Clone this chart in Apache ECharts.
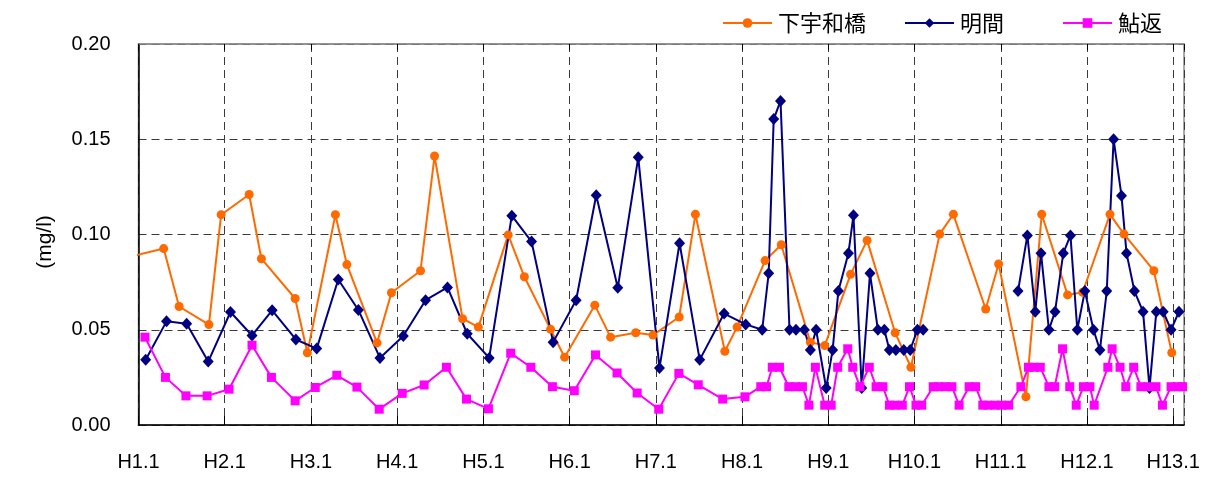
<!DOCTYPE html>
<html>
<head>
<meta charset="utf-8">
<script src="https://cdn.jsdelivr.net/npm/echarts@6/dist/echarts.min.js"></script>
<style>
html,body{margin:0;padding:0;background:#fff;}
#c{width:1216px;height:480px;}
</style>
</head>
<body>
<div id="c"></div>
<script>
// x values are months counted from H1.1 (H1.1 = 0, H2.1 = 12, ...)
const seriesNames = ['下宇和橋', '明間', '鮎返'];
const yTicks = [0, 0.05, 0.10, 0.15, 0.20];
const yAxisTitle = '(mg/l)';

const shimoUwaX = [-1, 3.5, 5.65, 9.8, 11.5, 15.4, 17.1, 21.8, 23.5, 27.4, 29.0, 33.2, 35.2, 39.25, 41.2, 45.1, 47.3, 51.45, 53.7, 57.35, 59.3, 63.5, 65.7, 69.2, 71.6, 75.25, 77.5, 81.6, 83.3, 87.2, 89.45, 93.5, 95.5, 99.1, 101.4, 105.3, 107.5, 111.5, 113.4, 117.9, 119.7, 123.5, 125.7, 129.3, 131.4, 135.2, 137.15, 141.3, 143.8];
const shimoUwaY = [0.0885, 0.0926, 0.0622, 0.0527, 0.1104, 0.1210, 0.0873, 0.0664, 0.0379, 0.1104, 0.0842, 0.0431, 0.0694, 0.0810, 0.1412, 0.0558, 0.0514, 0.0998, 0.0778, 0.0502, 0.0356, 0.0629, 0.0461, 0.0484, 0.0472, 0.0567, 0.1106, 0.0387, 0.0514, 0.0863, 0.0946, 0.0435, 0.0417, 0.0791, 0.0969, 0.0484, 0.0303, 0.1002, 0.1106, 0.0609, 0.0845, 0.0148, 0.1106, 0.0683, 0.0697, 0.1106, 0.1002, 0.0810, 0.0379];

const akemaX = [1.0, 3.9, 6.7, 9.7, 12.8, 15.8, 18.6, 21.9, 24.8, 27.8, 30.6, 33.6, 36.85, 39.95, 43.0, 45.75, 48.8, 51.95, 54.7, 57.7, 60.9, 63.7, 66.7, 69.55, 72.5, 75.3, 78.1, 81.5, 84.5, 86.8, 87.7, 88.4, 89.35, 90.6, 91.5, 92.65, 93.5, 94.3, 95.7, 96.6, 97.4, 98.8, 99.5, 100.65, 101.8, 102.9, 103.8, 104.5, 105.4, 106.5, 107.4, 108.4, 109.2, 115, 122.4, 123.7, 124.8, 125.6, 126.7, 127.55, 128.7, 129.7, 130.65, 131.7, 132.9, 133.8, 134.75, 135.7, 136.8, 137.5, 138.6, 139.8, 140.7, 141.65, 142.6, 143.7, 144.8];
const akemaY = [0.0342, 0.0544, 0.0532, 0.0333, 0.0593, 0.0470, 0.0602, 0.0449, 0.0401, 0.0764, 0.0604, 0.0352, 0.0467, 0.0655, 0.0722, 0.0479, 0.0352, 0.1099, 0.0963, 0.0435, 0.0655, 0.1206, 0.0720, 0.1405, 0.0299, 0.0954, 0.0342, 0.0585, 0.0528, 0.0500, 0.0796, 0.1606, 0.1701, 0.0500, 0.0500, 0.0500, 0.0394, 0.0500, 0.0194, 0.0394, 0.0703, 0.0902, 0.1101, 0.0194, 0.0796, 0.0500, 0.0500, 0.0394, 0.0394, 0.0394, 0.0394, 0.0500, 0.0500, null, 0.0703, 0.0995, 0.0595, 0.0902, 0.0500, 0.0595, 0.0902, 0.0995, 0.0500, 0.0703, 0.0500, 0.0394, 0.0703, 0.1500, 0.1204, 0.0902, 0.0703, 0.0595, 0.0194, 0.0595, 0.0595, 0.0500, 0.0595];

const ayugaeriX = [0.9, 3.75, 6.6, 9.55, 12.6, 15.8, 18.5, 21.8, 24.6, 27.6, 30.4, 33.5, 36.7, 39.75, 42.85, 45.65, 48.7, 51.8, 54.6, 57.6, 60.65, 63.6, 66.6, 69.4, 72.4, 75.2, 77.9, 81.3, 84.4, 86.6, 87.4, 88.2, 89.2, 90.5, 91.4, 92.4, 93.3, 94.2, 95.5, 96.4, 97.3, 98.7, 99.4, 100.4, 101.7, 102.65, 103.6, 104.5, 105.3, 106.3, 107.3, 108.2, 109.0, 110.6, 111.35, 112.3, 113.2, 114.2, 115.6, 116.5, 117.5, 118.2, 119.2, 120.1, 121.1, 122.8, 123.85, 124.6, 125.5, 126.7, 127.5, 128.6, 129.6, 130.5, 131.5, 132.4, 133.0, 134.9, 135.5, 136.6, 137.4, 138.5, 139.5, 140.5, 141.6, 142.5, 143.7, 144.7, 145.3];
const ayugaeriY = [0.0461, 0.0250, 0.0153, 0.0153, 0.0188, 0.0419, 0.0250, 0.0127, 0.0197, 0.0261, 0.0199, 0.0083, 0.0166, 0.0210, 0.0303, 0.0136, 0.0085, 0.0377, 0.0303, 0.0201, 0.0180, 0.0368, 0.0273, 0.0168, 0.0083, 0.0271, 0.0211, 0.0136, 0.0148, 0.0201, 0.0201, 0.0303, 0.0303, 0.0201, 0.0201, 0.0201, 0.0104, 0.0303, 0.0104, 0.0104, 0.0303, 0.0400, 0.0303, 0.0201, 0.0303, 0.0201, 0.0201, 0.0104, 0.0104, 0.0104, 0.0201, 0.0104, 0.0104, 0.0201, 0.0201, 0.0201, 0.0201, 0.0104, 0.0201, 0.0201, 0.0104, 0.0104, 0.0104, 0.0104, 0.0104, 0.0201, 0.0303, 0.0303, 0.0303, 0.0201, 0.0201, 0.0400, 0.0201, 0.0104, 0.0201, 0.0201, 0.0104, 0.0303, 0.0400, 0.0303, 0.0201, 0.0303, 0.0201, 0.0201, 0.0201, 0.0104, 0.0201, 0.0201, 0.0201];

function pairs(xs, ys) { return xs.map((x, i) => [x, ys[i]]); }

const FONT = '"Liberation Sans", Arial, "Noto Sans CJK JP", sans-serif';
const chart = echarts.init(document.getElementById('c'), null, {renderer: 'canvas'});

function legendAt(name, left) {
  return {
    data: [name], left: left, top: 7, orient: 'horizontal',
    itemWidth: 49, itemHeight: 12, itemGap: 0,
    textStyle: {fontFamily: '"Noto Sans CJK JP", sans-serif', fontSize: 22, color: '#000', padding: [0, 0, 0, 1]},
    selectedMode: false
  };
}

chart.setOption({
  animation: false,
  backgroundColor: '#fff',
  grid: {left: 138.5, right: 32, top: 44, bottom: 55, show: true, borderColor: '#8c8c8c', borderWidth: 1.5, backgroundColor: 'transparent'},
  legend: [legendAt(seriesNames[0], 717), legendAt(seriesNames[1], 899), legendAt(seriesNames[2], 1057)],
  graphic: [{
    type: 'text', x: 45, y: 242, rotation: Math.PI / 2,
    style: {text: yAxisTitle, fontSize: 21, fontFamily: FONT, fill: '#000', align: 'center', verticalAlign: 'middle'}
  }],
  xAxis: [{
    type: 'value', min: 0, max: 145.5, interval: 12, position: 'bottom',
    axisLine: {show: true, onZero: false, lineStyle: {color: '#000', width: 1.5}},
    axisTick: {show: true, inside: true, length: 9, lineStyle: {color: '#000', width: 1}},
    axisLabel: {
      show: true, margin: 27, fontSize: 20, color: '#000', fontFamily: FONT,
      showMaxLabel: false,
      formatter: v => (Math.abs(v % 12) < 1e-6) ? ('H' + (v / 12 + 1) + '.1') : ''
    },
    splitLine: {show: true, lineStyle: {color: '#3a3a3a', type: [8, 5], width: 1}}
  }, {
    type: 'value', min: 0, max: 145.5, interval: 12, position: 'top',
    axisLine: {show: true, onZero: false, lineStyle: {color: '#8c8c8c', width: 1.5}},
    axisTick: {show: true, inside: true, length: 6, lineStyle: {color: '#000', width: 1}},
    axisLabel: {show: false}, splitLine: {show: false}
  }],
  yAxis: [{
    type: 'value', min: yTicks[0], max: yTicks[yTicks.length - 1], interval: 0.05,
    axisLine: {show: true, onZero: false, lineStyle: {color: '#000', width: 1.5}},
    axisTick: {show: false},
    axisLabel: {margin: 28, fontSize: 20, color: '#000', fontFamily: FONT, formatter: v => v.toFixed(2)},
    splitLine: {show: true, lineStyle: {color: '#3a3a3a', type: [8, 5], width: 1}}
  }],
  series: [{
    name: seriesNames[0], type: 'line', data: pairs(shimoUwaX, shimoUwaY),
    symbol: 'circle', symbolSize: 9, showAllSymbol: true, clip: true,
    itemStyle: {color: '#FF6A00'}, lineStyle: {color: '#FF6A00', width: 2}
  }, {
    name: seriesNames[1], type: 'line', data: pairs(akemaX, akemaY), connectNulls: false,
    symbol: 'diamond', symbolSize: [11, 12], showAllSymbol: true, clip: true,
    itemStyle: {color: '#000080'}, lineStyle: {color: '#000080', width: 2}
  }, {
    name: seriesNames[2], type: 'line', data: pairs(ayugaeriX, ayugaeriY),
    symbol: 'rect', symbolSize: 9, showAllSymbol: true, clip: true,
    itemStyle: {color: '#FF00FF'}, lineStyle: {color: '#FF00FF', width: 2}
  }]
});
</script>
</body>
</html>
